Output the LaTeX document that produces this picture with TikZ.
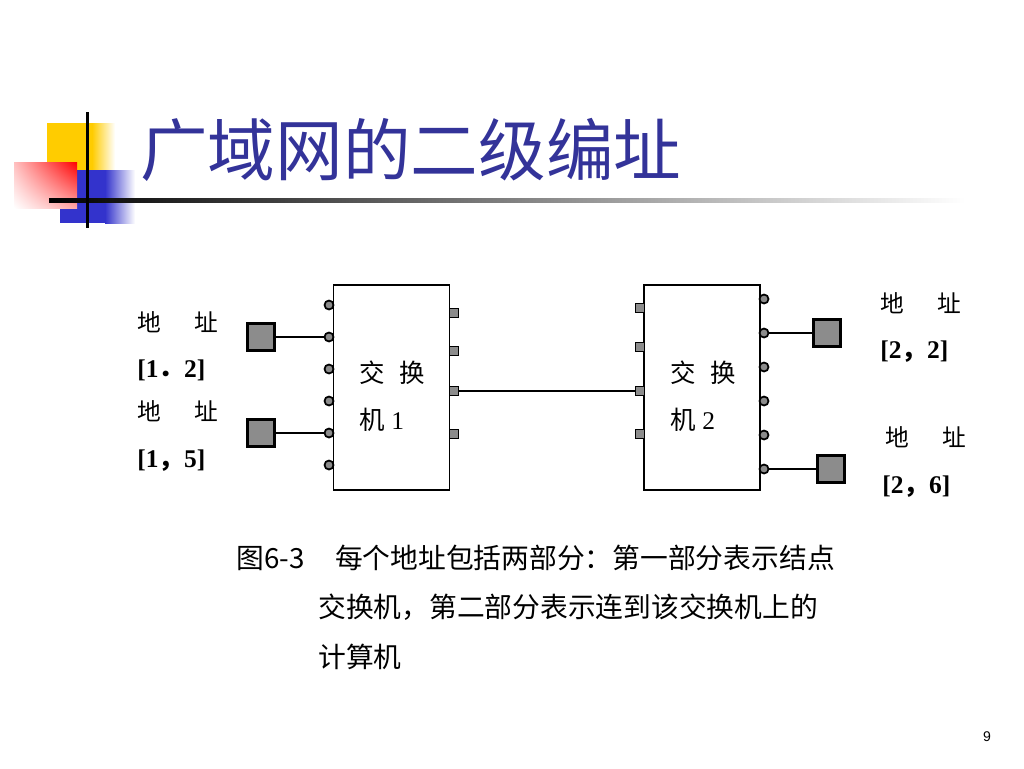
\documentclass[tikz,border=0pt]{standalone}
\usepackage{fontspec}
\usetikzlibrary{shadings}
\setmainfont{Liberation Serif}
\newfontfamily\cjk{Noto Sans CJK SC}
\newfontfamily\arial{Liberation Sans}
\definecolor{titleblue}{RGB}{51,51,153}
\definecolor{portgray}{RGB}{140,140,140}
\definecolor{logoyellow}{RGB}{255,204,0}
\definecolor{logoblue}{RGB}{51,51,204}

\begin{document}
\begin{tikzpicture}[x=0.02cm,y=-0.02cm,
    switch/.style={draw,line width=1pt,minimum width=2.32cm,minimum height=4.1cm},
    hole/.style={circle,draw,fill=portgray,line width=1pt,inner sep=0pt,minimum size=0.18cm},
    plug/.style={rectangle,draw,fill=portgray,line width=0.8pt,inner sep=0pt,minimum size=0.17cm},
    host/.style={rectangle,draw,fill=portgray,line width=1.2pt,inner sep=0pt,minimum size=0.54cm},
    addr/.style={font=\fontsize{13.5}{15}\selectfont\cjk,anchor=west,inner sep=0pt},
    num/.style={font=\fontsize{14.5}{16}\selectfont\bfseries,anchor=west,inner sep=0pt},
    captext/.style={font=\fontsize{15.8}{17}\selectfont\cjk,anchor=west,inner sep=0pt},
    wire/.style={line width=1pt}]
    \useasboundingbox (0,0) rectangle (1024,768);
    \fill[logoyellow] (47,123) rectangle (92,170);
    \shade[left color=logoyellow,right color=white] (92,123) rectangle (115,170);
    \fill[logoblue] (60,170) rectangle (105,223);
    \shade[left color=logoblue,right color=white] (105,170) rectangle (135,223);
    \shade[upper left=red!25,upper right=red,lower left=white,lower right=red!35] (14,162) rectangle (77,208);
    \shade[left color=black,right color=white] (49,198) rectangle (965,202);
    \fill[black] (85.5,112) rectangle (89,228);
    \node (title) at (140,150) [anchor=west,inner sep=0pt,text=titleblue,font=\fontsize{38.5}{40}\selectfont\cjk] {广域网的二级编址};

    \node (sw1) at (391.5,387.5) [switch] {};
    \node (sw2) at (702,387.5) [switch] {};
    \node (t1) at (392,396) [align=left,font=\fontsize{14.5}{27}\selectfont] {{\cjk 交\hspace{0.55em}换}\\{\cjk 机} 1};
    \node (t2) at (703,396) [align=left,font=\fontsize{14.5}{27}\selectfont] {{\cjk 交\hspace{0.55em}换}\\{\cjk 机} 2};
    \foreach \i in {1,...,6}
        \node (a\i) at (329,{273+32*\i}) [hole] {};
    \foreach \i in {1,...,6}
        \node (d\i) at (764,{265+34*\i}) [hole] {};
    \foreach \y [count=\i] in {313,351,391,434}
        \node (b\i) at (454,\y) [plug] {};
    \foreach \y [count=\i] in {308,347,391,434}
        \node (c\i) at (640,\y) [plug] {};
    \draw[wire] (b3) -- (c3);

    \node (h1) at (261,337) [host] {};
    \node (h2) at (261,433) [host] {};
    \node (h3) at (827,333) [host] {};
    \node (h4) at (831,469) [host] {};
    \draw[wire] (h1) -- (a2);
    \draw[wire] (h2) -- (a5);
    \draw[wire] (h3) -- (d2);
    \draw[wire] (h4) -- (d6);

    \node (l1) at (137,322) [addr] {地\hspace{1.4em}址};
    \node (n1) at (137,370) [num] {[1{\cjk ．}2]};
    \node (l2) at (137,411) [addr] {地\hspace{1.4em}址};
    \node (n2) at (137,461) [num] {[1{\cjk ，}5]};
    \node (l3) at (880,303) [addr] {地\hspace{1.4em}址};
    \node (n3) at (880,352) [num] {[2{\cjk ，}2]};
    \node (l4) at (885,437) [addr] {地\hspace{1.4em}址};
    \node (n4) at (882,487) [num] {[2{\cjk ，}6]};

    \node (cap1) at (236,558) [captext] {图6-3\hspace{1.1em}每个地址包括两部分：第一部分表示结点};
    \node (cap2) at (318,607) [captext] {交换机，第二部分表示连到该交换机上的};
    \node (cap3) at (318,657) [captext] {计算机};
    \node (pg) at (987,737) [font=\fontsize{8}{9}\selectfont\arial] {9};
\end{tikzpicture}
\end{document}
